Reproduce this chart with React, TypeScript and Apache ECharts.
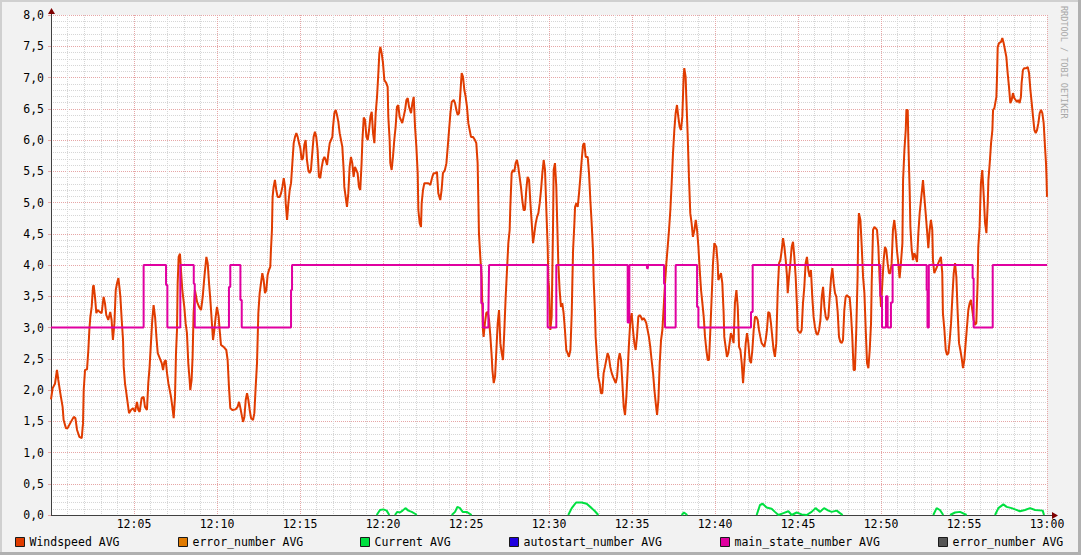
import React, { useEffect, useRef } from 'react';
import * as echarts from 'echarts';

const FONT = 'DejaVu Sans Mono';
const seriesNames = ['Windspeed AVG', 'error_number AVG', 'Current AVG', 'autostart_number AVG', 'main_state_number AVG', 'error_number AVG#2'];
const legendLabels = ['Windspeed AVG', 'error_number AVG', 'Current AVG', 'autostart_number AVG', 'main_state_number AVG', 'error_number AVG'];
const seriesColors = ['#E03C00', '#E07A00', '#00E040', '#2000E0', '#E000A0', '#555555'];
const xTickMinutes = [0, 5, 10, 15, 20, 25, 30, 35, 40, 45, 50, 55, 60];

// Windspeed, [minutes after 12:00, value]
const wind0 = [[0,1.85],[0.10,2.03],[0.24,2.1],[0.36,2.32],[0.44,2.16],[0.56,1.95],[0.70,1.73],[0.76,1.52],[0.90,1.39],[1.00,1.39],[1.16,1.47],[1.37,1.57],[1.47,1.55],[1.57,1.36],[1.71,1.25],[1.85,1.23],[1.93,1.47],[1.97,2.0],[2.05,2.32],[2.17,2.33],[2.25,2.64],[2.31,2.96],[2.37,3.17],[2.45,3.33],[2.53,3.65],[2.57,3.68],[2.65,3.49],[2.73,3.23],[2.81,3.28],[2.93,3.25],[3.05,3.23],[3.17,3.49],[3.25,3.39],[3.33,3.2],[3.45,3.12],[3.57,3.25],[3.65,3.12],[3.73,2.8],[3.82,3.07],[3.90,3.6],[3.98,3.71],[4.06,3.79],[4.12,3.65],[4.18,3.49],[4.26,3.12],[4.34,2.8],[4.38,2.37],[4.46,2.1],[4.54,1.95],[4.62,1.79],[4.70,1.63],[4.82,1.68],[4.94,1.71],[5.06,1.65],[5.18,1.81],[5.26,1.68],[5.34,1.65],[5.46,1.87],[5.58,1.89],[5.66,1.73],[5.78,1.68],[5.86,2.11],[5.94,2.37],[6.02,2.75],[6.10,3.12],[6.18,3.36],[6.27,3.17],[6.35,2.85],[6.43,2.59],[6.55,2.51],[6.67,2.43],[6.75,2.32],[6.83,2.45],[6.91,2.48],[6.99,2.27],[7.07,2.11],[7.15,2.0],[7.23,1.89],[7.31,1.73],[7.39,1.55],[7.47,1.89],[7.53,2.59],[7.59,2.96],[7.63,3.71],[7.69,4.13],[7.77,4.18],[7.83,3.92],[7.91,3.6],[8.03,3.33],[8.11,3.07],[8.19,2.91],[8.27,2.43],[8.35,2.16],[8.39,2.0],[8.47,2.16],[8.53,2.53],[8.59,3.23],[8.67,3.6],[8.80,3.41],[8.92,3.33],[9.04,3.28],[9.14,3.49],[9.24,3.81],[9.36,4.13],[9.44,4.03],[9.52,3.71],[9.60,3.44],[9.68,3.12],[9.76,2.8],[9.84,2.96],[9.92,3.17]];
const wind1 = [[10.00,3.33],[10.10,3.17],[10.16,2.96],[10.24,2.72],[10.40,2.69],[10.56,2.64],[10.64,2.48],[10.72,2.05],[10.80,1.71],[10.92,1.68],[11.12,1.69],[11.24,1.73],[11.33,1.81],[11.41,1.71],[11.51,1.57],[11.57,1.49],[11.65,1.57],[11.73,1.84],[11.81,1.95],[11.89,1.84],[11.97,1.68],[12.05,1.55],[12.17,1.52],[12.25,1.63],[12.33,2.05],[12.41,2.43],[12.49,3.23],[12.57,3.55],[12.65,3.71],[12.73,3.87],[12.81,3.76],[12.89,3.55],[12.97,3.6],[13.05,3.84],[13.13,3.92],[13.21,3.97],[13.25,4.24],[13.31,4.56],[13.35,5.09],[13.41,5.25],[13.49,5.36],[13.57,5.2],[13.65,5.09],[13.78,5.09],[13.86,5.15],[13.94,5.25],[14.02,5.39],[14.10,5.25],[14.14,4.99],[14.22,4.72],[14.30,4.99],[14.38,5.2],[14.46,5.31],[14.54,5.63],[14.62,5.95],[14.70,6.05],[14.78,6.11],[14.86,6.05],[14.94,5.95],[15.02,5.87],[15.10,5.68],[15.18,5.71],[15.26,5.92],[15.34,6.0],[15.42,5.68],[15.50,5.52],[15.58,5.47],[15.66,5.52],[15.74,5.79],[15.82,6.05],[15.90,6.13],[15.98,6.05],[16.06,5.84],[16.14,5.41],[16.22,5.39],[16.31,5.57],[16.39,5.68],[16.47,5.73],[16.55,5.68],[16.63,5.6],[16.71,5.79],[16.79,5.95],[16.87,6.0],[16.95,6.05],[16.99,6.21],[17.07,6.43],[17.15,6.48],[17.23,6.4],[17.31,6.29],[17.39,6.11],[17.47,6.0],[17.55,5.89],[17.63,5.52],[17.67,5.25],[17.75,5.09],[17.83,4.93],[17.91,5.15],[17.99,5.57],[18.07,5.73],[18.15,5.63],[18.23,5.41],[18.31,5.57],[18.39,5.52],[18.47,5.47],[18.55,5.25],[18.63,5.2],[18.71,5.63],[18.76,6.0],[18.84,6.36],[18.92,6.32],[19.00,6.05],[19.08,6.0],[19.16,6.16],[19.24,6.37],[19.32,6.45],[19.40,6.11],[19.48,5.95],[19.56,6.43],[19.64,6.69],[19.72,7.07],[19.78,7.39],[19.84,7.49],[19.92,7.39]];
const wind2 = [[20.00,7.23],[20.08,6.96],[20.20,6.91],[20.28,6.85],[20.32,6.37],[20.40,6.0],[20.44,5.63],[20.52,5.52],[20.60,5.73],[20.68,6.0],[20.76,6.21],[20.84,6.53],[20.92,6.56],[21.00,6.37],[21.08,6.32],[21.16,6.27],[21.24,6.37],[21.33,6.48],[21.41,6.64],[21.49,6.67],[21.57,6.53],[21.69,6.43],[21.77,6.59],[21.85,6.69],[21.93,6.21],[22.01,5.89],[22.09,5.47],[22.13,4.88],[22.21,4.67],[22.29,4.61],[22.33,4.99],[22.41,5.2],[22.49,5.31],[22.61,5.31],[22.73,5.31],[22.85,5.28],[22.97,5.41],[23.05,5.47],[23.17,5.47],[23.25,5.49],[23.33,5.15],[23.45,5.04],[23.53,5.2],[23.61,5.47],[23.73,5.52],[23.82,5.63],[23.90,5.89],[23.98,6.16],[24.06,6.43],[24.14,6.61],[24.26,6.64],[24.34,6.59],[24.42,6.48],[24.50,6.4],[24.58,6.43],[24.66,6.75],[24.74,7.07],[24.82,7.01],[24.90,6.8],[24.98,6.69],[25.06,6.53],[25.14,6.27],[25.22,6.16],[25.30,6.05],[25.42,6.05],[25.54,6.0],[25.62,5.95],[25.70,5.63],[25.74,5.09],[25.78,4.51],[25.86,4.13],[25.94,3.81],[25.98,3.39],[26.02,2.96],[26.06,2.85],[26.14,3.07],[26.22,3.23],[26.31,3.25],[26.39,3.12],[26.47,2.85],[26.55,2.53],[26.59,2.32],[26.67,2.11],[26.75,2.21],[26.83,2.64],[26.91,3.07],[26.99,3.28],[27.07,2.75],[27.15,2.59],[27.23,2.48],[27.31,2.96],[27.39,3.49],[27.47,3.92],[27.55,4.35],[27.63,4.56],[27.67,4.93],[27.75,5.47],[27.83,5.52],[27.91,5.49],[27.99,5.63],[28.07,5.68],[28.15,5.57],[28.23,5.41],[28.31,5.25],[28.39,5.04],[28.47,4.88],[28.55,4.88],[28.63,5.2],[28.71,5.41],[28.80,5.36],[28.88,4.99],[28.96,4.67],[29.04,4.35],[29.12,4.51],[29.20,4.67],[29.28,4.77],[29.36,4.83],[29.44,4.99],[29.52,5.2],[29.60,5.47],[29.68,5.68],[29.76,5.52],[29.84,4.88],[29.92,4.29],[29.96,3.76]];
const wind3 = [[30.00,3.65],[30.08,2.96],[30.16,3.17],[30.24,4.56],[30.28,5.52],[30.36,5.63],[30.44,5.25],[30.48,4.83],[30.56,4.03],[30.64,3.6],[30.72,3.33],[30.80,3.39],[30.88,3.23],[30.96,2.96],[31.04,2.64],[31.12,2.59],[31.20,2.53],[31.29,2.64],[31.37,3.23],[31.41,3.76],[31.45,4.24],[31.53,4.67],[31.57,4.93],[31.65,4.99],[31.73,4.93],[31.81,5.15],[31.89,5.41],[31.97,5.68],[32.05,5.92],[32.13,5.95],[32.21,5.73],[32.33,5.73],[32.41,5.47],[32.49,5.04],[32.57,4.67],[32.65,4.24],[32.69,3.76],[32.77,3.23],[32.81,2.85],[32.89,2.53],[32.97,2.21],[33.05,2.11],[33.13,1.95],[33.21,1.95],[33.29,2.27],[33.37,2.37],[33.45,2.48],[33.53,2.59],[33.61,2.53],[33.69,2.37],[33.78,2.27],[33.86,2.21],[33.94,2.16],[34.02,2.11],[34.10,2.21],[34.18,2.48],[34.26,2.59],[34.34,2.48],[34.42,2.11],[34.50,1.73],[34.58,1.6],[34.66,1.89],[34.74,2.32],[34.82,2.75],[34.90,3.12],[34.98,3.23],[35.06,2.96],[35.14,2.75],[35.22,2.64],[35.30,2.85],[35.38,3.17],[35.46,3.2],[35.54,3.17],[35.62,3.12],[35.70,3.15],[35.78,3.12],[35.86,3.07],[35.94,2.96],[36.02,2.85],[36.10,2.69],[36.18,2.48],[36.27,2.27],[36.35,2.0],[36.43,1.79],[36.51,1.6],[36.59,1.84],[36.67,2.43],[36.75,2.8],[36.83,2.96],[36.91,3.33],[36.99,3.71],[37.07,4.03],[37.15,4.29],[37.23,4.56],[37.31,4.88],[37.39,5.31],[37.47,5.79],[37.55,6.16],[37.63,6.43],[37.71,6.56],[37.79,6.37],[37.87,6.21],[37.95,6.16],[38.03,6.37],[38.07,6.69],[38.11,7.01],[38.15,7.15],[38.23,7.01],[38.27,6.69],[38.35,6.11],[38.43,5.41],[38.51,4.83],[38.59,4.67],[38.67,4.45],[38.76,4.56],[38.84,4.72],[38.92,4.56],[39.00,4.29],[39.08,3.92],[39.16,3.6],[39.24,3.39],[39.32,3.17],[39.40,2.85],[39.48,2.64],[39.56,2.48],[39.64,2.48],[39.72,2.96],[39.80,3.49],[39.88,4.03],[39.96,4.35]];
const wind4 = [[40.00,4.35],[40.08,4.29],[40.16,4.03],[40.20,3.76],[40.28,3.81],[40.36,3.87],[40.44,3.71],[40.52,3.23],[40.56,2.85],[40.64,2.69],[40.72,2.53],[40.80,2.59],[40.88,2.75],[40.96,2.91],[41.04,2.85],[41.12,2.75],[41.20,3.39],[41.29,3.6],[41.37,3.33],[41.45,2.69],[41.53,2.64],[41.61,2.43],[41.69,2.11],[41.77,2.43],[41.85,2.75],[41.93,2.91],[42.01,2.75],[42.09,2.48],[42.17,2.43],[42.25,2.64],[42.33,2.96],[42.41,3.17],[42.49,3.17],[42.57,3.12],[42.65,2.96],[42.73,2.85],[42.81,2.75],[42.89,2.72],[42.97,2.69],[43.05,2.8],[43.13,2.96],[43.21,3.25],[43.29,3.23],[43.37,3.07],[43.45,2.85],[43.53,2.64],[43.61,2.53],[43.69,2.75],[43.78,3.6],[43.86,4.03],[43.94,4.08],[44.02,4.24],[44.10,4.43],[44.18,4.29],[44.26,4.08],[44.34,3.81],[44.38,3.55],[44.46,3.81],[44.54,4.03],[44.62,4.29],[44.70,4.37],[44.78,4.13],[44.86,3.81],[44.94,3.33],[44.98,2.96],[45.06,2.93],[45.14,2.91],[45.22,2.96],[45.30,3.39],[45.38,3.65],[45.46,4.03],[45.54,4.13],[45.62,3.92],[45.70,3.81],[45.78,3.92],[45.86,3.49],[45.94,3.17],[46.02,3.01],[46.10,2.91],[46.18,2.88],[46.27,2.96],[46.35,3.12],[46.43,3.49],[46.51,3.65],[46.59,3.33],[46.67,3.17],[46.75,3.12],[46.83,3.17],[46.91,3.49],[46.99,3.79],[47.07,3.95],[47.15,3.71],[47.23,3.55],[47.31,3.49],[47.39,3.25],[47.47,2.85],[47.55,2.77],[47.63,2.75],[47.71,2.8],[47.79,3.28],[47.87,3.49],[47.95,3.52],[48.03,3.49],[48.11,3.49],[48.19,3.23],[48.27,2.85],[48.35,2.32],[48.43,2.32],[48.51,2.96],[48.59,3.81],[48.63,4.56],[48.67,4.83],[48.76,4.72],[48.84,4.29],[48.92,3.81],[49.00,3.55],[49.08,2.96],[49.16,2.43],[49.24,2.35],[49.32,2.64],[49.40,3.07],[49.44,3.71],[49.52,4.56],[49.60,4.61],[49.68,4.59],[49.76,4.56],[49.84,4.29],[49.92,3.76]];
const wind5 = [[50.00,3.33],[50.08,3.71],[50.16,4.08],[50.24,4.29],[50.32,4.24],[50.40,4.03],[50.48,3.87],[50.56,3.87],[50.64,4.03],[50.72,4.56],[50.80,4.72],[50.88,4.53],[50.96,4.24],[51.04,4.03],[51.12,3.79],[51.20,4.03],[51.29,4.35],[51.33,5.36],[51.41,5.84],[51.49,6.16],[51.53,6.48],[51.61,6.48],[51.65,5.95],[51.73,5.15],[51.77,4.61],[51.85,4.24],[51.93,4.08],[52.01,4.19],[52.09,4.13],[52.17,4.05],[52.25,4.51],[52.33,4.83],[52.41,5.04],[52.49,5.25],[52.53,5.36],[52.61,5.09],[52.69,4.83],[52.77,4.56],[52.85,4.27],[52.93,4.56],[53.01,4.72],[53.09,4.56],[53.13,4.08],[53.21,3.87],[53.29,3.92],[53.37,3.97],[53.45,4.03],[53.53,4.08],[53.61,4.13],[53.69,3.87],[53.73,3.23],[53.82,2.96],[53.90,2.64],[53.98,2.56],[54.06,2.59],[54.14,2.8],[54.22,3.07],[54.30,3.49],[54.38,3.87],[54.46,4.03],[54.54,3.81],[54.62,3.23],[54.70,2.75],[54.78,2.64],[54.86,2.51],[54.94,2.35],[55.02,2.48],[55.10,2.75],[55.18,3.01],[55.26,3.28],[55.34,3.39],[55.42,3.44],[55.50,3.28],[55.58,3.12],[55.66,3.04],[55.74,3.07],[55.82,3.71],[55.86,4.29],[55.94,4.61],[55.98,4.99],[56.02,5.31],[56.10,5.52],[56.18,5.15],[56.27,4.67],[56.35,4.51],[56.43,4.99],[56.47,5.36],[56.55,5.63],[56.63,5.95],[56.71,6.16],[56.75,6.48],[56.83,6.51],[56.95,6.69],[56.99,7.01],[57.03,7.49],[57.11,7.55],[57.23,7.57],[57.31,7.63],[57.39,7.55],[57.47,7.44],[57.55,7.33],[57.63,7.07],[57.71,6.85],[57.79,6.59],[57.87,6.64],[57.95,6.75],[58.03,6.67],[58.11,6.64],[58.19,6.61],[58.27,6.64],[58.35,6.59],[58.43,6.69],[58.47,6.91],[58.55,7.12],[58.63,7.15],[58.76,7.15],[58.84,7.17],[58.92,7.07],[59.00,6.8],[59.08,6.59],[59.16,6.37],[59.24,6.16],[59.32,6.11],[59.40,6.16],[59.48,6.27],[59.56,6.43],[59.64,6.48],[59.72,6.43],[59.80,6.27],[59.88,5.89],[59.94,5.63],[59.97,5.41],[60.00,5.09]];

// main_state_number (value holds until the next change)
const mainState = [[0,3],[5.58,4],[6.93,3.68],[7.01,3],[7.79,4],[8.6,3.7],[8.66,3],[10.72,3.65],[10.8,4],[11.41,3.44],[11.49,3],[14.46,3.6],[14.52,4],[25.92,3.39],[26.02,3],[26.35,3.23],[26.39,4],[29.92,3],[30.44,4],[34.74,3.08],[34.84,4],[35.9,3.95],[35.96,4],[36.93,3.7],[36.99,3],[37.63,4],[38.92,3.33],[39.0,3],[42.17,3.25],[42.27,4],[49.96,3.5],[50.06,3],[50.3,3.5],[50.4,3],[50.6,3.4],[50.7,4],[52.75,3.6],[52.8,3],[52.88,4],[55.52,3.79],[55.58,3],[56.73,4],[60,4]];

// Current: bumps above zero ('-' = nothing drawn)
const current = [[19.62,0],[19.82,0.08],[20.02,0.09],[20.22,0.07],[20.38,0],[20.5,'-'],[20.72,0],[20.86,0.05],[21.02,0.04],[21.18,0.07],[21.35,0.11],[21.53,0.07],[21.73,0.05],[21.93,0.02],[22.03,0],[23,'-'],[24.14,0],[24.34,0.05],[24.48,0.13],[24.64,0.11],[24.8,0.05],[25.04,0.05],[25.34,0],[28,'-'],[31.16,0],[31.37,0.11],[31.63,0.2],[31.97,0.2],[32.27,0.18],[32.57,0.11],[32.77,0.06],[32.97,0],[35,'-'],[37.99,0],[38.13,0.04],[38.33,0],[40,'-'],[42.51,0],[42.71,0.16],[42.87,0.18],[43.11,0.12],[43.41,0.1],[43.61,0.05],[43.82,0],[44.12,0.03],[44.42,0.06],[44.62,0],[44.92,0.04],[45.22,0.01],[45.52,0],[45.82,0.05],[46.06,0.11],[46.33,0.05],[46.57,0.11],[46.83,0.07],[47.03,0.05],[47.33,0.07],[47.53,0.03],[47.69,0],[50,'-'],[53.15,0],[53.35,0.11],[53.55,0.08],[53.75,0],[54,'-'],[54.16,0],[54.46,0.04],[54.76,0.05],[55.16,0],[56,'-'],[56.87,0],[57.07,0.11],[57.37,0.17],[57.57,0.13],[57.87,0.11],[58.37,0.06],[58.67,0.08],[58.98,0.11],[59.28,0.08],[59.74,0.07],[59.82,0]];

const errorNumber: number[][] = [];
const autostartNumber: number[][] = [];
const errorNumber2: number[][] = [];

const windspeed = [...wind0, ...wind1, ...wind2, ...wind3, ...wind4, ...wind5];
const seriesData = [windspeed, errorNumber, current, autostartNumber, mainState, errorNumber2];

const legendLeft = [15, 178, 360, 509, 720, 938];

const MGRID = '#e6a6a6';
const GRID = '#d6d6d6';
const AXIS = '#404040';
const ARROW = '#7f0000';

function fmtTime(v: number) {
  if (v === 0) return '';
  const h = 12 + Math.floor(v / 60);
  const m = v % 60;
  return `${h}:${m < 10 ? '0' + m : m}`;
}

export default function App() {
  const ref = useRef<HTMLDivElement>(null);
  useEffect(() => {
    if (!ref.current) return;
    const chart = echarts.init(ref.current, undefined, { renderer: 'svg' });
    const option: any = {
      animation: false,
      backgroundColor: '#f2f2f2',
      textStyle: { fontFamily: FONT },
      grid: { left: 51, top: 15, width: 996, height: 500, show: true, backgroundColor: '#ffffff', borderWidth: 0 },
      xAxis: {
        type: 'value', min: 0, max: 60, interval: 5,
        axisLine: { show: true, onZero: false, lineStyle: { color: AXIS, width: 1 } },
        axisTick: { show: false },
        axisLabel: {
          formatter: (v: number) => (xTickMinutes.includes(v) ? fmtTime(v) : ''),
          fontFamily: FONT, fontSize: 11.5, color: '#000', margin: 3,
          showMinLabel: true, showMaxLabel: true,
        },
        splitLine: { show: true, lineStyle: { color: MGRID, type: [1, 1], width: 1 } },
        minorTick: { show: false, splitNumber: 5 },
        minorSplitLine: { show: true, lineStyle: { color: GRID, type: [1, 1], width: 1 } },
      },
      yAxis: {
        type: 'value', min: 0, max: 8, interval: 0.5,
        axisLine: { show: true, lineStyle: { color: AXIS, width: 1 } },
        axisTick: { show: true, length: 3, lineStyle: { color: MGRID } },
        axisLabel: {
          formatter: (v: number) => v.toFixed(1).replace('.', ','),
          fontFamily: FONT, fontSize: 11.5, color: '#000', margin: 7,
        },
        splitLine: { show: true, lineStyle: { color: MGRID, type: [1, 1], width: 1 } },
        minorTick: { show: false, splitNumber: 5 },
        minorSplitLine: { show: true, lineStyle: { color: GRID, type: [1, 1], width: 1 } },
      },
      legend: seriesNames.map((n, i) => ({
        data: [n],
        left: legendLeft[i],
        top: 536,
        icon: 'rect',
        itemWidth: 9,
        itemHeight: 9,
        padding: 0,
        selectedMode: false,
        formatter: legendLabels[i],
        itemStyle: { borderColor: '#1a1a1a', borderWidth: 1 },
        textStyle: { fontFamily: FONT, fontSize: 11.5, color: '#000' },
      })),
      series: seriesNames.map((n, i) => ({
        name: n,
        type: 'line',
        data: seriesData[i],
        symbol: 'none',
        showSymbol: false,
        connectNulls: false,
        step: i === 4 ? 'end' : false,
        color: seriesColors[i],
        itemStyle: { color: seriesColors[i] },
        lineStyle: { color: seriesColors[i], width: 2 },
        z: 2 + i,
      })),
      graphic: [
        { type: 'rect', shape: { x: 0, y: 0, width: 1081, height: 2 }, style: { fill: '#d0d0d0' }, silent: true },
        { type: 'rect', shape: { x: 0, y: 0, width: 2, height: 555 }, style: { fill: '#d0d0d0' }, silent: true },
        { type: 'rect', shape: { x: 0, y: 552, width: 1081, height: 3 }, style: { fill: '#b0b0b0' }, silent: true },
        { type: 'rect', shape: { x: 1078, y: 0, width: 3, height: 555 }, style: { fill: '#b0b0b0' }, silent: true },
        { type: 'line', shape: { x1: 1047, y1: 515.5, x2: 1053, y2: 515.5 }, style: { stroke: AXIS, lineWidth: 1 }, silent: true },
        { type: 'line', shape: { x1: 51.5, y1: 15, x2: 51.5, y2: 11 }, style: { stroke: AXIS, lineWidth: 1 }, silent: true },
        { type: 'polygon', shape: { points: [[51.5, 8], [48, 14], [55, 14]] }, style: { fill: ARROW }, silent: true },
        { type: 'polygon', shape: { points: [[1058, 515.5], [1052, 512], [1052, 519]] }, style: { fill: ARROW }, silent: true },
        {
          type: 'text', x: 1068, y: 6, rotation: -Math.PI / 2, silent: true,
          style: { text: 'RRDTOOL / TOBI OETIKER', fontFamily: FONT, fontSize: 8.5, fill: '#a8a8a8', textAlign: 'left', textVerticalAlign: 'top' },
        },
      ],
    };
    chart.setOption(option);
    return () => chart.dispose();
  }, []);
  return <div ref={ref} style={{ position: 'absolute', left: 0, top: 0, width: 1081, height: 555 }} />;
}
